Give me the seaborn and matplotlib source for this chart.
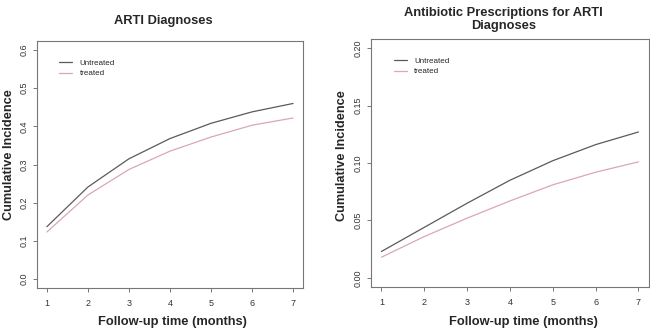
import matplotlib
matplotlib.use("Agg")
import matplotlib.pyplot as plt
import seaborn as sns
import pandas as pd

months = [1, 2, 3, 4, 5, 6, 7]
groups = ["Untreated", "treated"]

# ARTI diagnoses
arti_untreated = [0.137, 0.241, 0.315, 0.368, 0.408, 0.438, 0.460]
arti_treated = [0.123, 0.220, 0.287, 0.335, 0.372, 0.403, 0.422]

# antibiotic prescriptions for ARTI diagnoses
abx_untreated = [0.023, 0.044, 0.065, 0.085, 0.102, 0.116, 0.127]
abx_treated = [0.018, 0.036, 0.052, 0.067, 0.081, 0.092, 0.101]

titles = ["ARTI Diagnoses", "Antibiotic Prescriptions for ARTI\nDiagnoses"]
yticks_list = [[0.0, 0.1, 0.2, 0.3, 0.4, 0.5, 0.6],
               [0.00, 0.05, 0.10, 0.15, 0.20]]
ytick_labels = [["0.0", "0.1", "0.2", "0.3", "0.4", "0.5", "0.6"],
                ["0.00", "0.05", "0.10", "0.15", "0.20"]]


def long_df(untreated, treated):
    return pd.DataFrame({
        "month": months * 2,
        "ci": untreated + treated,
        "group": [groups[0]] * len(months) + [groups[1]] * len(months),
    })


sns.set_style("white")
plt.rcParams["font.family"] = ["Liberation Sans", "DejaVu Sans"]

fig = plt.figure(figsize=(6.5, 3.3), dpi=100)
ax1 = fig.add_axes([0.057, 0.127, 0.409, 0.749])
ax2 = fig.add_axes([0.571, 0.130, 0.427, 0.752])

palette = {"Untreated": "#5a5a5a", "treated": "#dba7b0"}
dfs = [long_df(arti_untreated, arti_treated), long_df(abx_untreated, abx_treated)]
title_pads = [12, 7]

for i, (ax, df) in enumerate(zip([ax1, ax2], dfs)):
    sns.lineplot(data=df, x="month", y="ci", hue="group", palette=palette,
                 linewidth=0.9, ax=ax)
    ymax = yticks_list[i][-1]
    ax.set_xlim(1 - 0.24, 7 + 0.24)
    ax.set_ylim(-0.04 * ymax, ymax * 1.04)
    ax.set_xticks(months)
    ax.set_xticklabels([str(m) for m in months])
    ax.set_yticks(yticks_list[i])
    ax.set_yticklabels(ytick_labels[i], rotation=90, va="center")
    ax.tick_params(axis="both", direction="out", length=3, width=0.7,
                   colors="#777777", labelcolor="#333333", labelsize=6.5,
                   bottom=True, left=True)
    ax.tick_params(axis="x", pad=4.5)
    ax.tick_params(axis="y", pad=3)
    for s in ax.spines.values():
        s.set_color("#777777")
        s.set_linewidth(0.8)
    ax.set_title(titles[i], fontsize=9.3, fontweight="bold", pad=title_pads[i],
                 linespacing=1.15)
    ax.title.set_position((0.476, 1.0))
    ax.set_xlabel("Follow-up time (months)", fontsize=9.3, fontweight="bold",
                  va="center")
    ax.set_ylabel("Cumulative Incidence", fontsize=9.2, fontweight="bold",
                  va="center")
    ax.legend(loc="upper left", bbox_to_anchor=(0.057, 0.955), frameon=False,
              fontsize=5.8, handlelength=1.6, handletextpad=0.9,
              labelspacing=0.35, title=None)

ax1.xaxis.set_label_coords(0.51, -0.138)
ax2.xaxis.set_label_coords(0.548, -0.141)
ax1.yaxis.set_label_coords(-0.107, 0.54)
ax2.yaxis.set_label_coords(-0.104, 0.53)

fig.savefig("out.png", dpi=100)
